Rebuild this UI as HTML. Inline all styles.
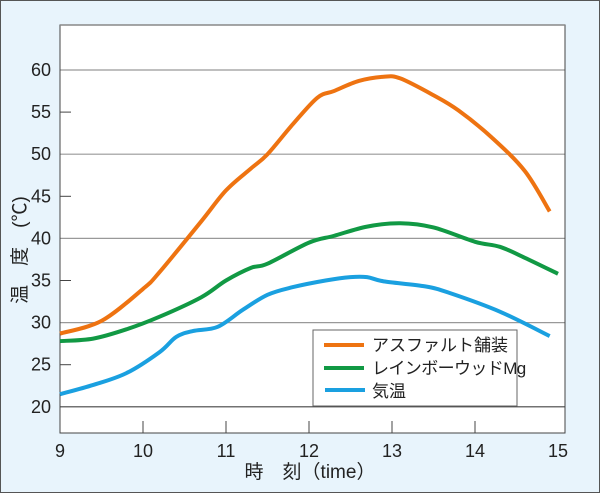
<!DOCTYPE html>
<html><head><meta charset="utf-8"><style>
html,body{margin:0;padding:0;}
body{width:600px;height:493px;overflow:hidden;}
</style></head><body>
<svg id="s" width="600" height="493" xmlns="http://www.w3.org/2000/svg" font-family="Liberation Sans, Noto Sans CJK JP, sans-serif">
<rect x="0.5" y="0.5" width="599" height="492" fill="#e8f4fc" stroke="#555" stroke-width="1"/>
<rect x="60" y="25" width="505" height="408" fill="#fff"/>
<g id="grid"></g>
<path d="M60,25 H565 V433 H60 Z" fill="none" stroke="#444" stroke-width="1"/>
<line x1="60" y1="25" x2="565" y2="25" stroke="#888" stroke-width="1.5"/>
<g id="series"></g>
<rect x="313" y="330" width="204" height="76" fill="#fff" stroke="#666" stroke-width="1"/>
<line x1="324" y1="345" x2="364" y2="345" stroke="#ee7311" stroke-width="4"/>
<line x1="324" y1="368" x2="364" y2="368" stroke="#119944" stroke-width="4"/>
<line x1="325" y1="390" x2="365" y2="390" stroke="#1aa0e0" stroke-width="4"/>
<g font-size="17" fill="#222">
<text x="372" y="351">アスファルト舗装</text>
<text x="372" y="374" letter-spacing="-0.6">レインボーウッドMg</text>
<text x="372" y="397">気温</text>
</g>
<text x="310" y="478" font-size="19" fill="#222" text-anchor="middle">時　刻（time）</text>
<text transform="translate(26,250) rotate(-90)" font-size="19" fill="#222" text-anchor="middle">温　度　(℃)</text>
</svg>
<script>
var NS="http://www.w3.org/2000/svg";
function X(t){return 60+(t-9)*83;}
function Y(v){return 70+(60-v)*8.42;}
var g=document.getElementById('grid'),s=document.getElementById('series');
function el(p,n,a){var e=document.createElementNS(NS,n);for(var k in a)e.setAttribute(k,a[k]);p.appendChild(e);return e;}
for(var v=20;v<=60;v+=5){var y=Y(v);
 if(v%10==0)el(g,'line',{x1:60,x2:565,y1:y,y2:y,stroke:(v==20?'#444':'#999'),'stroke-width':1.2});
 else el(g,'line',{x1:60,x2:71,y1:y,y2:y,stroke:'#444','stroke-width':1});
 var t=el(g,'text',{x:51,y:y+6,'font-size':18,fill:'#222','text-anchor':'end'});t.textContent=v;}
for(var h=9;h<=15;h++){var x=X(h);
 if(h>9&&h<15)el(g,'line',{x1:x,x2:x,y1:421,y2:433,stroke:'#444','stroke-width':1});
 var t=el(g,'text',{x:x,y:457,'font-size':18,fill:'#222','text-anchor':'middle'});t.textContent=h;}
var data=[
['#ee7311',[[9,28.7],[9.5,30.2],[10,34],[10.2,36],[10.7,42],[11,45.7],[11.3,48.3],[11.5,50],[11.8,53.5],[12.1,56.7],[12.3,57.5],[12.6,58.7],[12.9,59.2],[13.1,59],[13.5,57],[13.8,55.2],[14.2,52],[14.6,48],[14.9,43.2]]],
['#119944',[[9,27.8],[9.4,28.1],[9.8,29.2],[10.2,30.7],[10.7,33],[11,35],[11.3,36.5],[11.5,37],[12,39.5],[12.3,40.3],[12.7,41.4],[13.1,41.8],[13.5,41.3],[14,39.6],[14.3,39],[14.6,37.7],[15,35.8]]],
['#1aa0e0',[[9,21.5],[9.4,22.6],[9.8,24],[10.2,26.5],[10.4,28.3],[10.6,29],[10.9,29.5],[11.2,31.5],[11.5,33.3],[11.8,34.2],[12.2,35],[12.5,35.4],[12.7,35.4],[12.9,34.9],[13.4,34.3],[13.7,33.5],[14.3,31.3],[14.9,28.4]]]];
data.forEach(function(d){var p=d[1].map(function(q){return [X(q[0]),Y(q[1])];});
 var str='M'+p[0][0]+','+p[0][1];
 for(var i=0;i<p.length-1;i++){var p0=p[i-1]||p[i],p1=p[i],p2=p[i+1],p3=p[i+2]||p2;
  var c1=[p1[0]+(p2[0]-p0[0])/6,p1[1]+(p2[1]-p0[1])/6],c2=[p2[0]-(p3[0]-p1[0])/6,p2[1]-(p3[1]-p1[1])/6];
  str+='C'+c1+' '+c2+' '+p2;}
 el(s,'path',{d:str,fill:'none',stroke:d[0],'stroke-width':4,'stroke-linejoin':'round'});});
</script>
</body></html>
